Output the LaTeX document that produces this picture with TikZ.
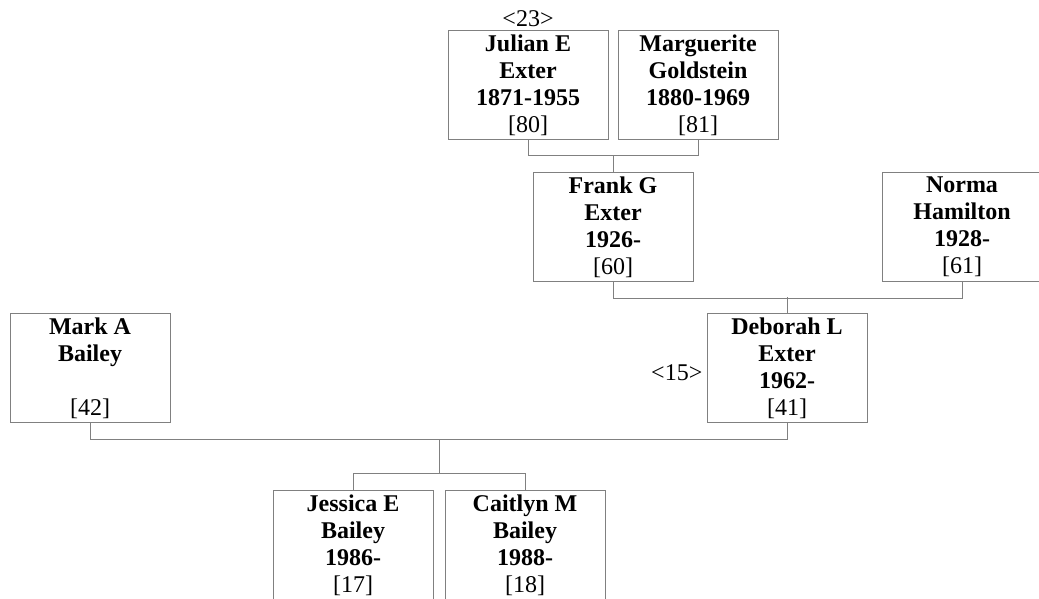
\documentclass[tikz,border=0pt]{standalone}
\usepackage{fontspec}
\setmainfont{Liberation Serif}

\begin{document}
\begin{tikzpicture}[x=1pt,y=-1pt,
  person/.style={draw=gray,line width=1pt,minimum width=160pt,minimum height=109pt,
    inner sep=0pt,anchor=north,align=center,font=\fontsize{24}{27}\selectfont\bfseries},
  link/.style={draw=gray,line width=1pt},
  tag/.style={inner sep=0pt,font=\fontsize{24}{27}\selectfont}]
\useasboundingbox (0,0) rectangle (1039,599);

\node[person] (julian) at (528,30) {Julian E\\Exter\\1871-1955\\\mdseries [80]};
\node[person] (marg) at (698,30) {Marguerite\\Goldstein\\1880-1969\\\mdseries [81]};
\node[tag,anchor=base] (t23) at ([yshift=3pt]julian.north) {<23>};

\node[person] (frank) at (613,172) {Frank G\\Exter\\1926-\\\mdseries [60]};
\node[person] (norma) at (962,172) {Norma\\Hamilton\\1928-\\\mdseries [61]};

\node[person] (mark) at (90,313) {Mark A\\Bailey\\\mbox{}\\\mdseries [42]};
\node[person] (deborah) at (787,313) {Deborah L\\Exter\\1962-\\\mdseries [41]};
\node[tag,anchor=base east] (t15) at ([xshift=-4pt,yshift=-12.5pt]deborah.west) {<15>};

\node[person] (jessica) at (353,490) {Jessica E\\Bailey\\1986-\\\mdseries [17]};
\node[person] (caitlyn) at (525,490) {Caitlyn M\\Bailey\\1988-\\\mdseries [18]};

% family lines
\draw[link] (julian.south) -- ++(0,16) -| (marg.south);
\draw[link] (frank.north) -- ++(0,-16);
\draw[link] (frank.south) -- ++(0,16) -| (norma.south);
\draw[link] (deborah.north) -- ++(0,-16);
\draw[link] (mark.south) -- ++(0,16) coordinate (fam) -| (deborah.south);
\draw[link] (jessica.north) -- ++(0,-17) coordinate (kidbar) -| (caitlyn.north);
\draw[link] ([xshift=349pt]fam) -- ([xshift=349pt]fam |- kidbar);
\end{tikzpicture}
\end{document}
